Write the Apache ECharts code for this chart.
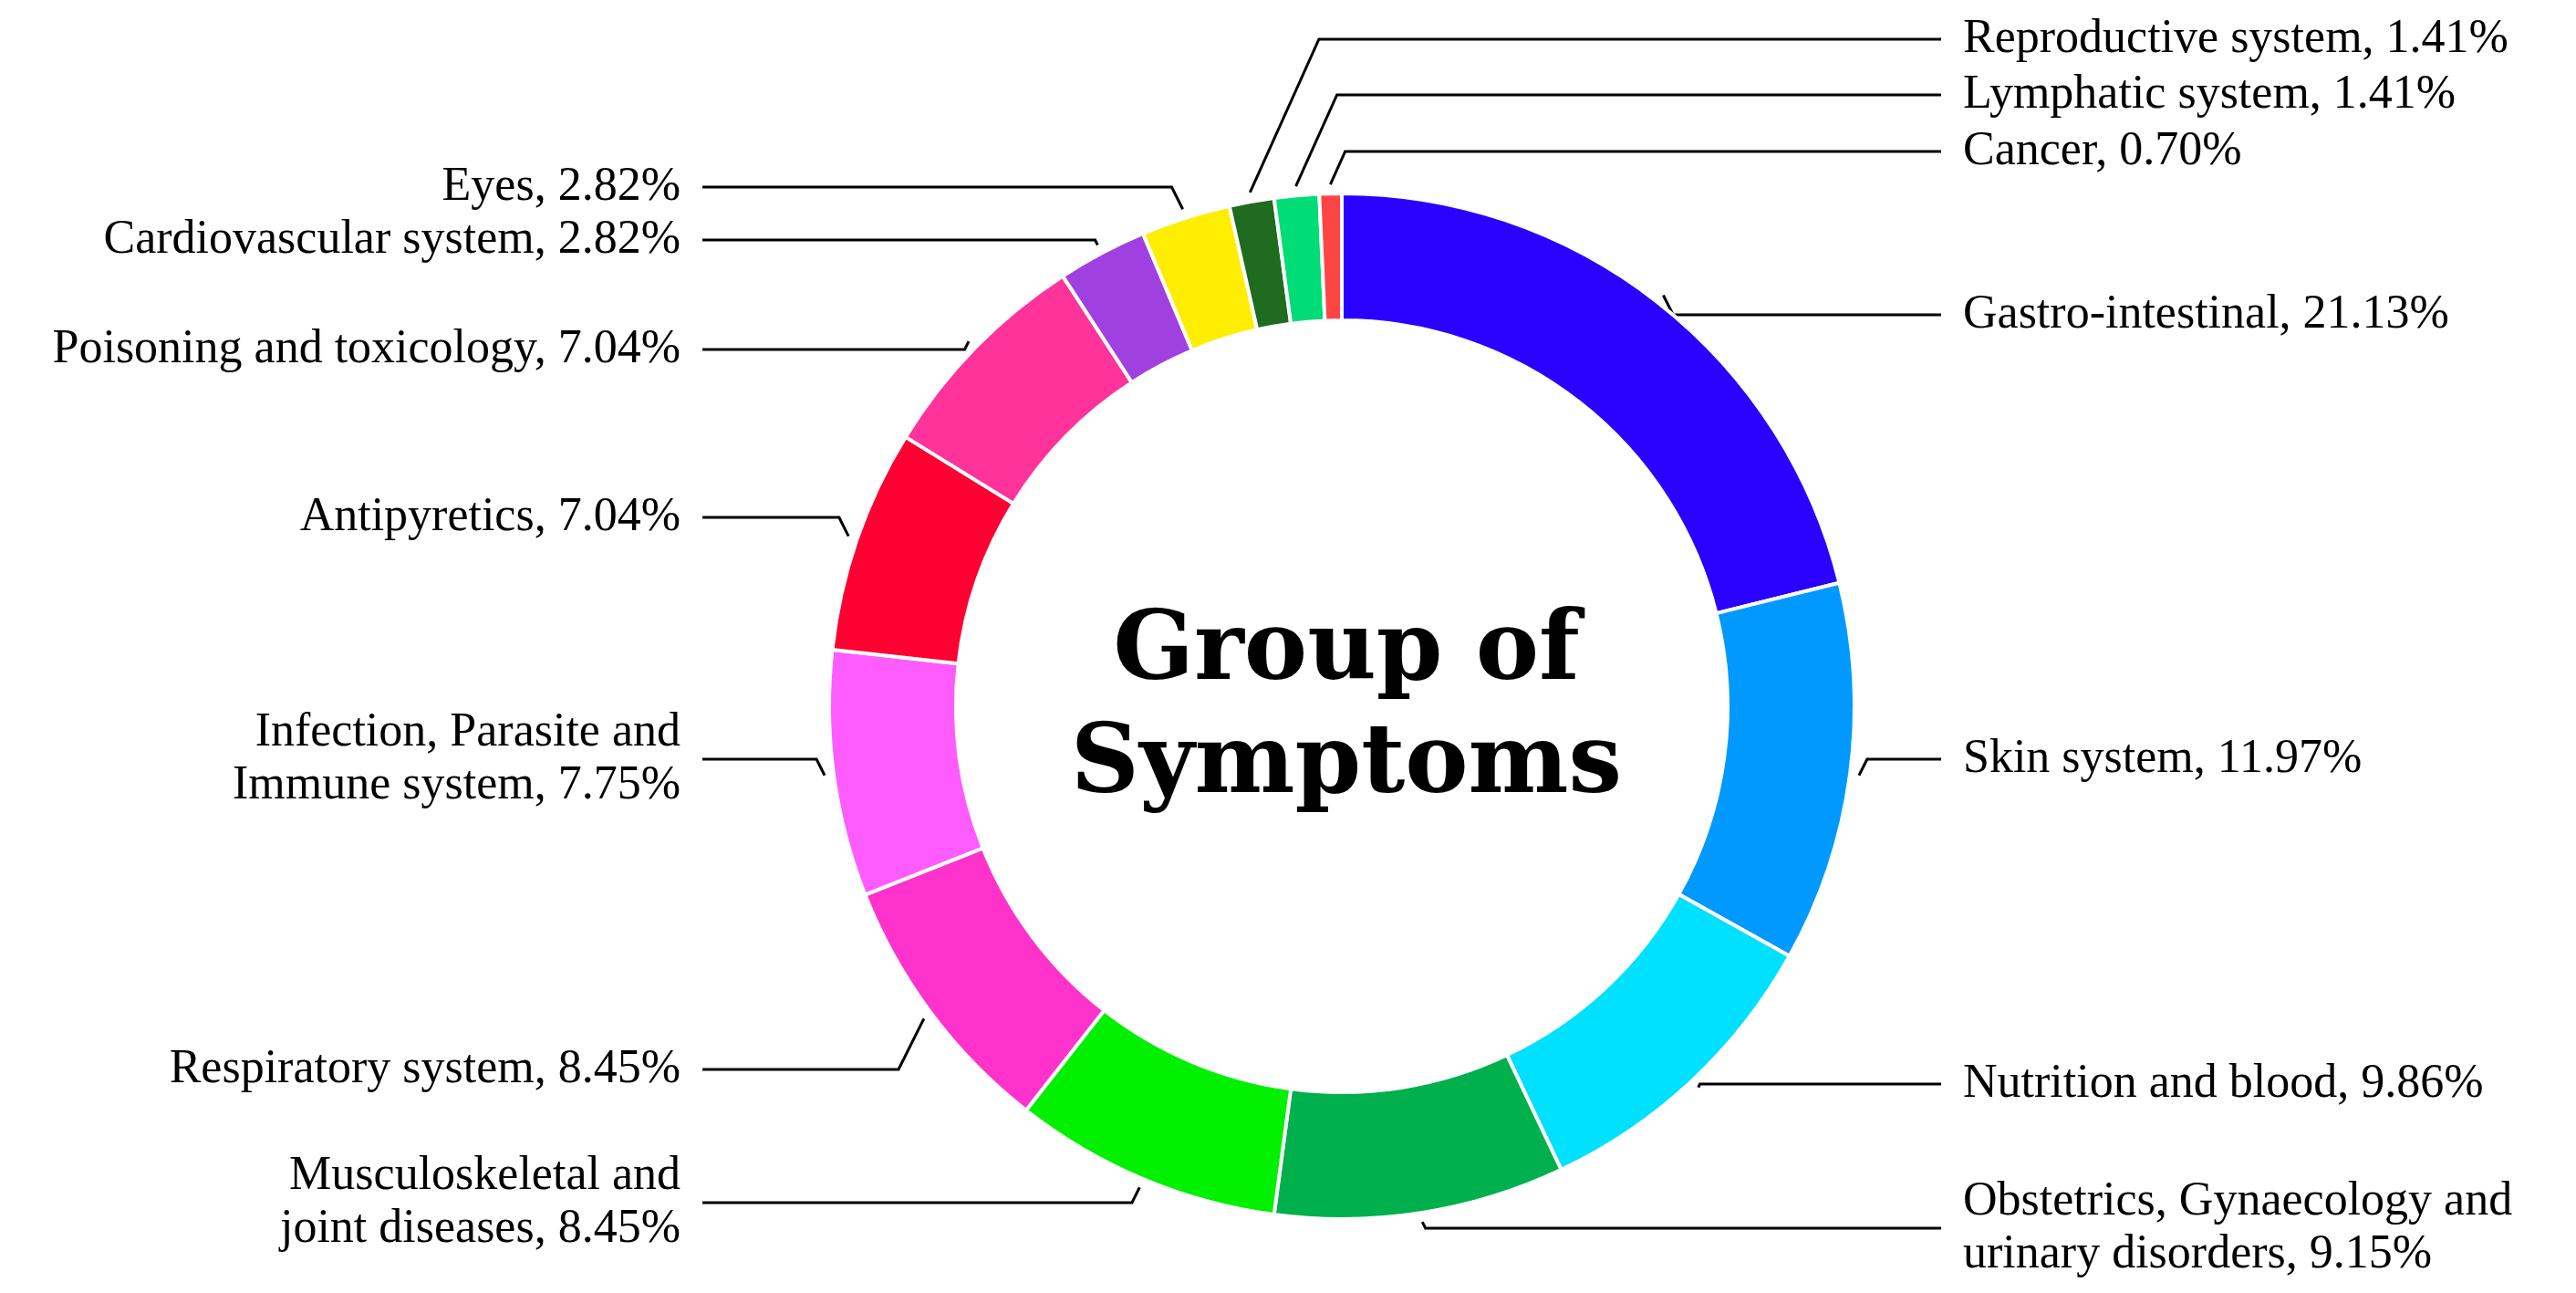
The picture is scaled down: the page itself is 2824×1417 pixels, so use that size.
<!DOCTYPE html>
<html>
<head>
    <meta charset="UTF-8">
    <title>Group of Symptoms</title>
    <script src="https://cdn.jsdelivr.net/npm/echarts@6/dist/echarts.min.js"></script>
    <style>html,body{margin:0;background:#fff;}</style>
</head>
<body>
<div id="main" style="width: 2824px;height:1417px;"></div>
<script type="text/javascript">
    // 数据
    var categories = ['Gastro-intestinal', 'Skin system', 'Nutrition and blood',
        'Obstetrics, Gynaecology and\nurinary disorders', 'Musculoskeletal and\njoint diseases',
        'Respiratory system', 'Infection, Parasite and\nImmune system', 'Antipyretics',
        'Poisoning and toxicology', 'Cardiovascular system', 'Eyes',
        'Reproductive system', 'Lymphatic system', 'Cancer'];
    var values = [21.13, 11.97, 9.86, 9.15, 8.45, 8.45, 7.75, 7.04, 7.04, 2.82, 2.82, 1.41, 1.41, 0.70];
    var colors = ['#2a00ff', '#0099ff', '#00e0ff', '#00b04c', '#00f000', '#ff33cc', '#ff5cff',
        '#ff0033', '#ff3399', '#a040e0', '#ffee00', '#1f6b1f', '#00dd77', '#ff4444'];
    // 标签布局（位置，不是数据）
    var labelY = [345, 832, 1188, 1346, 1318, 1172, 832, 567, 383, 263, 205, 43, 104, 166];
    var labelRight = [1, 1, 1, 1, 0, 0, 0, 0, 0, 0, 0, 1, 1, 1];

    var cx = 1471, cy = 774, rOut = 562;
    var total = values.reduce(function (a, b) { return a + b; }, 0);
    var cum = [];
    values.reduce(function (acc, v, i) { cum[i] = acc + v / 2; return acc + v; }, 0);

    var str = categories.map(function (c, i) {
        return {value: values[i], name: c, itemStyle: {color: colors[i]}};
    });

    echarts.init(document.getElementById('main')).setOption({
        title: {
            text: 'Group of\nSymptoms',
            left: cx, top: cy,
            textAlign: 'center', textVerticalAlign: 'middle',
            textStyle: {fontFamily: 'DejaVu Serif', fontWeight: 'bold', fontSize: 104, lineHeight: 124, color: '#000'}
        },
        series: [{
            type: 'pie',
            center: [cx, cy],
            radius: [423, rOut],
            startAngle: 90,
            clockwise: true,
            animation: false,
            data: str,
            itemStyle: {borderColor: '#fff', borderWidth: 4},
            label: {
                formatter: function (p) { return p.name + ', ' + p.value.toFixed(2) + '%'; },
                fontFamily: 'Liberation Serif', fontSize: 52, lineHeight: 58, color: '#000'
            },
            labelLine: {show: true, length: 40, length2: 60, lineStyle: {color: '#000', width: 3}},
            labelLayout: function (p) {
                var i = p.dataIndex;
                var a = cum[i] / total * Math.PI * 2;
                var ax = cx + (rOut + 10) * Math.sin(a), ay = cy - (rOut + 10) * Math.cos(a);
                var y = labelY[i], right = labelRight[i];
                var s = right ? 1 : -1;
                var dy = Math.abs(y - ay);
                var ex = ax + s * Math.min(dy * 0.5, 60);
                if (i >= 11) ex = ax + s * dy * 0.45;
                return {
                    x: right ? 2152 : 746, y: y,
                    align: right ? 'left' : 'right', verticalAlign: 'middle',
                    labelLinePoints: [[ax, ay], [ex, y], [right ? 2128 : 770, y]]
                };
            }
        }]
    });
</script>
</body>
</html>
